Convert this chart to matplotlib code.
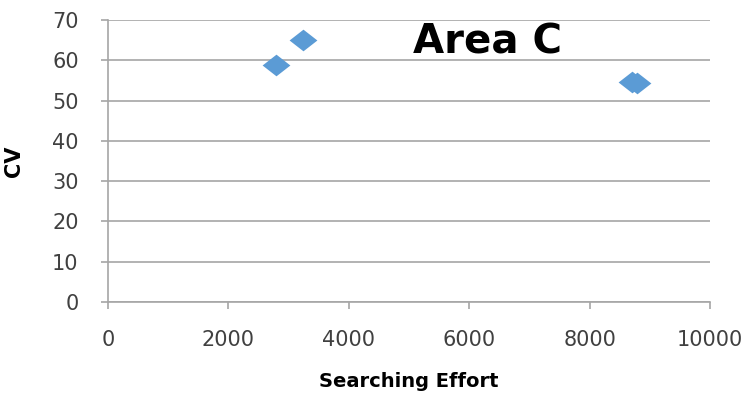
import matplotlib
matplotlib.use("Agg")
import matplotlib.pyplot as plt

# searching effort vs coefficient of variation, area C
effort = [2790, 3235, 8700, 8780]
cv = [58.9, 65.0, 54.6, 54.3]

x_ticks = [0, 2000, 4000, 6000, 8000, 10000]
y_ticks = [0, 10, 20, 30, 40, 50, 60, 70]

grey = "#a6a6a6"
blue = "#5b9bd5"

fig = plt.figure(figsize=(7.54, 3.99), dpi=100)
ax = fig.add_axes([0.143, 0.243, 0.799, 0.707])

# slightly flattened diamond
diamond = [(-1, 0), (0, 0.78), (1, 0), (0, -0.78), (-1, 0)]
ax.plot(effort, cv, linestyle="none", marker=diamond, markersize=20,
        color=blue, markeredgewidth=0, zorder=3)

ax.set_xlim(0, 10000)
ax.set_ylim(0, 70)
ax.set_xticks(x_ticks)
ax.set_yticks(y_ticks)
ax.grid(axis="y", color=grey, linewidth=1.2)
ax.set_axisbelow(True)

for side in ["top", "right"]:
    ax.spines[side].set_visible(False)
for side in ["left", "bottom"]:
    ax.spines[side].set_color(grey)
    ax.spines[side].set_linewidth(1.2)

ax.tick_params(colors=grey, labelcolor="#404040", labelsize=15, length=5, width=1.2)
ax.tick_params(axis="x", pad=15)
ax.tick_params(axis="y", pad=16)

ax.set_xlabel("Searching Effort", fontsize=14, fontweight="bold", labelpad=16)
ax.set_ylabel("CV", fontsize=15, fontweight="bold", labelpad=20)

ax.text(0.63, 0.92, "Area C", transform=ax.transAxes, fontsize=29,
        fontweight="bold", ha="center", va="center")

fig.savefig("out.png", dpi=100)
